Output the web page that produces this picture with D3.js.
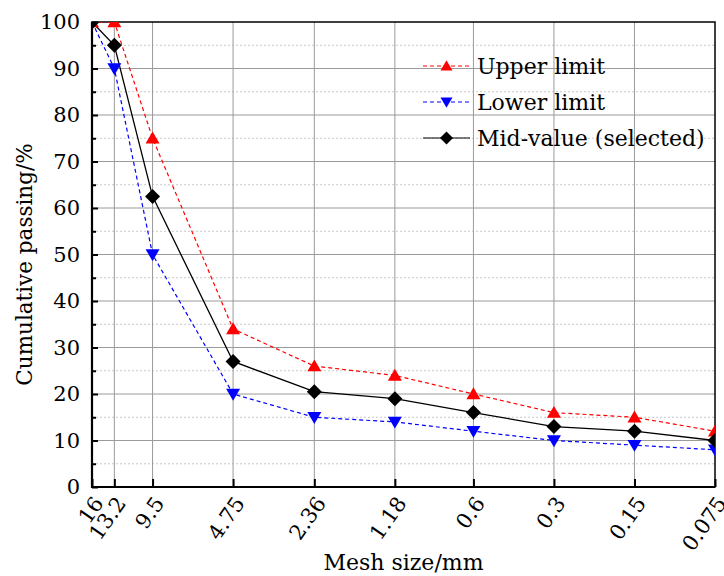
<!DOCTYPE html>
<html>
<head>
<meta charset="utf-8">
<script src="https://cdn.jsdelivr.net/npm/d3@7"></script>
<style>
    body { margin: 0; background: #fff; }
    svg text { font-family: "DejaVu Serif", serif; fill: #000; }
</style>
</head>
<body>
<div id="chart"></div>
<script>
// ===== Data =====
const sieveSizes = [16, 13.2, 9.5, 4.75, 2.36, 1.18, 0.6, 0.3, 0.15, 0.075];
const sieveLabels = ["16", "13.2", "9.5", "4.75", "2.36", "1.18", "0.6", "0.3", "0.15", "0.075"];
const upperLimit = [100, 100, 75, 34, 26, 24, 20, 16, 15, 12];
const lowerLimit = [100, 90, 50, 20, 15, 14, 12, 10, 9, 8];
const midValue = [100, 95, 62.5, 27, 20.5, 19, 16, 13, 12, 10];
const yTicks = [0, 10, 20, 30, 40, 50, 60, 70, 80, 90, 100];

const series = [
    { name: "Upper limit", values: upperLimit, color: "#ff0000", dash: "4,3", symbol: "up" },
    { name: "Lower limit", values: lowerLimit, color: "#0000ff", dash: "4,3", symbol: "down" },
    { name: "Mid-value (selected)", values: midValue, color: "#000000", dash: null, symbol: "diamond" }
];

const width = 724, height = 576;
const margin = { left: 92, right: 9, top: 22, bottom: 89 };
const plotW = width - margin.left - margin.right;
const plotH = height - margin.top - margin.bottom;

const svg = d3.select("#chart").append("svg")
    .attr("width", width)
    .attr("height", height);

const x = d3.scaleLog().domain([16, 0.075]).range([margin.left, margin.left + plotW]);
const y = d3.scaleLinear().domain([0, 100]).range([margin.top + plotH, margin.top]);

svg.append("defs").append("clipPath").attr("id", "plotClip")
    .append("rect")
    .attr("x", margin.left).attr("y", margin.top)
    .attr("width", plotW).attr("height", plotH);

// ===== Grid =====
const grid = svg.append("g");
d3.range(5, 100, 10).forEach(v => {
    grid.append("line")
        .attr("x1", margin.left).attr("x2", margin.left + plotW)
        .attr("y1", y(v)).attr("y2", y(v))
        .attr("stroke", "#c8c8c8").attr("stroke-width", 1)
        .attr("stroke-dasharray", "2,2");
});
yTicks.slice(1, -1).forEach(v => {
    grid.append("line")
        .attr("x1", margin.left).attr("x2", margin.left + plotW)
        .attr("y1", y(v)).attr("y2", y(v))
        .attr("stroke", "#9a9a9a").attr("stroke-width", 1);
});
sieveSizes.slice(1, -1).forEach(s => {
    grid.append("line")
        .attr("x1", x(s)).attr("x2", x(s))
        .attr("y1", margin.top).attr("y2", margin.top + plotH)
        .attr("stroke", "#9a9a9a").attr("stroke-width", 1);
});

// ===== Axes =====
const yAxis = d3.axisLeft(y)
    .tickValues(d3.range(0, 101, 5))
    .tickSize(-5)
    .tickPadding(12)
    .tickFormat(d => d % 10 === 0 ? d : "");
const yAxisG = svg.append("g")
    .attr("transform", `translate(${margin.left},0)`)
    .call(yAxis);
yAxisG.select(".domain").remove();
yAxisG.selectAll(".tick line").attr("stroke", "#000").attr("stroke-width", 2)
    .attr("x2", d => d % 10 === 0 ? 6 : 4);
yAxisG.selectAll(".tick text").style("font-size", "21px").style("font-family", "DejaVu Serif");

const xAxis = d3.axisBottom(x)
    .tickValues(sieveSizes)
    .tickSize(-8)
    .tickFormat((d, i) => sieveLabels[i]);
const xAxisG = svg.append("g")
    .attr("transform", `translate(0,${margin.top + plotH})`)
    .call(xAxis);
xAxisG.select(".domain").remove();
xAxisG.selectAll(".tick line").attr("stroke", "#000").attr("stroke-width", 2);
xAxisG.selectAll(".tick text")
    .style("font-size", "21px")
    .style("font-family", "DejaVu Serif")
    .attr("text-anchor", "end")
    .attr("y", 0)
    .attr("dy", "0.35em")
    .attr("transform", "translate(6,12) rotate(-55)");

// frame
svg.append("rect")
    .attr("x", margin.left).attr("y", margin.top)
    .attr("width", plotW).attr("height", plotH)
    .attr("fill", "none").attr("stroke", "#000").attr("stroke-width", 1.5);
svg.append("line")
    .attr("x1", margin.left).attr("x2", margin.left)
    .attr("y1", margin.top).attr("y2", margin.top + plotH + 1)
    .attr("stroke", "#000").attr("stroke-width", 2.2);
svg.append("line")
    .attr("x1", margin.left - 1).attr("x2", margin.left + plotW)
    .attr("y1", margin.top + plotH).attr("y2", margin.top + plotH)
    .attr("stroke", "#000").attr("stroke-width", 2.2);

// ===== Series =====
const symbolPath = (type, size) => {
    const h = size / 2;
    if (type === "up") return `M0,${-h * 0.95}L${h},${h * 0.75}L${-h},${h * 0.75}Z`;
    if (type === "down") return `M0,${h * 0.95}L${h},${-h * 0.75}L${-h},${-h * 0.75}Z`;
    return `M0,${-h}L${h},0L0,${h}L${-h},0Z`;
};

const plot = svg.append("g").attr("clip-path", "url(#plotClip)");
const line = d3.line().x(d => x(d[0])).y(d => y(d[1]));

series.forEach(s => {
    const pts = sieveSizes.map((sz, i) => [sz, s.values[i]]);
    plot.append("path")
        .datum(pts)
        .attr("fill", "none")
        .attr("stroke", s.color)
        .attr("stroke-width", s.dash ? 1.2 : 1.3)
        .attr("stroke-dasharray", s.dash)
        .attr("d", line);
});
series.forEach(s => {
    const pts = sieveSizes.map((sz, i) => [sz, s.values[i]]);
    plot.selectAll(null)
        .data(pts)
        .enter().append("path")
        .attr("transform", d => `translate(${x(d[0])},${y(d[1])})`)
        .attr("d", symbolPath(s.symbol, s.symbol === "diamond" ? 15 : 14))
        .attr("fill", s.color);
});

// ===== Legend =====
const legend = svg.append("g").attr("transform", "translate(423,66)");
series.forEach((s, i) => {
    const row = legend.append("g").attr("transform", `translate(0,${i * 36})`);
    row.append("line")
        .attr("x1", 0).attr("x2", 47)
        .attr("stroke", s.color).attr("stroke-width", 1.2)
        .attr("stroke-dasharray", s.dash);
    row.append("path")
        .attr("transform", "translate(23.5,0)")
        .attr("d", symbolPath(s.symbol, s.symbol === "diamond" ? 13 : 12))
        .attr("fill", s.color);
    row.append("text")
        .attr("x", 54).attr("dy", "0.35em")
        .style("font-size", "22px")
        .text(s.name);
});

// ===== Titles =====
svg.append("text")
    .attr("x", margin.left + plotW / 2).attr("y", 570)
    .attr("text-anchor", "middle")
    .style("font-size", "22px")
    .text("Mesh size/mm");

svg.append("text")
    .attr("transform", `translate(32,${margin.top + plotH / 2 + 10}) rotate(-90)`)
    .attr("text-anchor", "middle")
    .style("font-size", "21.5px")
    .text("Cumulative passing/%");
</script>
</body>
</html>
